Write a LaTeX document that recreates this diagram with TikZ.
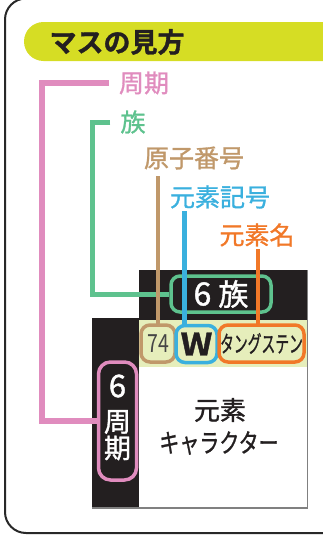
\documentclass[tikz,border=0pt]{standalone}
\usepackage{fontspec}
\setmainfont{Noto Sans CJK JP}[BoldFont={Noto Sans CJK JP Bold}]
\newfontfamily\jpmed{Noto Sans CJK JP}[FakeBold=1.2]
\newfontfamily\jpblack{Noto Sans CJK JP Bold}[FakeBold=1.2]
\definecolor{titlec}{RGB}{214,221,36}
\definecolor{pinkc}{RGB}{224,140,190}
\definecolor{greenc}{RGB}{94,194,142}
\definecolor{brownc}{RGB}{192,152,106}
\definecolor{bluec}{RGB}{58,176,222}
\definecolor{orangec}{RGB}{241,120,40}
\definecolor{blk}{RGB}{35,31,32}
\definecolor{stripc}{RGB}{230,238,187}
\definecolor{framec}{RGB}{40,40,40}
\definecolor{numc}{RGB}{70,70,70}
\begin{document}
\begin{tikzpicture}[x=1pt,y=-1pt,
  lab/.style={inner sep=0pt,font=\jpmed\fontsize{25pt}{27pt}\selectfont},
  ebox/.style={draw,line width=3.5pt,rounded corners=9pt,inner sep=0pt,fill=stripc},
  ptxt/.style={inner sep=0pt,text=white,font=\jpmed\fontsize{27pt}{29pt}\selectfont},
  conn/.style={line width=#1},
  ]
\useasboundingbox (0,0) rectangle (323,538);
\begin{scope}
\clip (0,0) rectangle (323,538);
% outer frame
\draw[framec,line width=2pt,rounded corners=21pt] (5,-1.5) rectangle (345,533);
% title bar
\fill[titlec,rounded corners=19.5pt] (24,22) rectangle (345,61);
\node[inner sep=0pt,text=blk,font=\jpblack\fontsize{27pt}{29pt}\selectfont] (title) at (117,42) {マスの見方};
% black background
\fill[blk] (139,270) rectangle (308,320);
\fill[blk] (92,318) rectangle (139,508);
% element card
\fill[stripc] (139,320) rectangle (307,367);
\fill[white] (139,367) rectangle (307,508);
\draw[gray,line width=1.2pt] (92,508) -- (307.5,508) -- (307.5,270);
% labels
\node[lab,text=pinkc] (pl) at (144,83) {周期};
\node[lab,text=greenc] (gl) at (133,122) {族};
\node[lab,text=brownc] (bl) at (194,158) {原子番号};
\node[lab,text=bluec] (bul) at (220,197) {元素記号};
\node[lab,text=orangec] (ol) at (257,235) {元素名};
% boxes
\node[ebox,draw=greenc,fill=blk,text=white,minimum width=100pt,minimum height=36pt,
  font=\jpmed\fontsize{30pt}{32pt}\selectfont] (gb) at (221,294) {{\fontsize{32pt}{32pt}\selectfont 6}\hspace{7pt}族};
\node[ebox,draw=brownc,minimum width=34pt,minimum height=37pt,text=numc,
  font=\fontsize{25pt}{27pt}\selectfont] (nb) at (158,343.5) {\scalebox{0.78}[1]{74}};
\node[ebox,draw=bluec,minimum width=41pt,minimum height=37pt,text=blk,
  font=\jpblack\fontsize{31pt}{33pt}\selectfont] (wb) at (196.5,344) {\scalebox{1.12}[1]{W}};
\node[ebox,draw=orangec,minimum width=85pt,minimum height=37pt,text=blk,
  font=\jpmed\fontsize{23pt}{25pt}\selectfont] (nmb) at (261.5,343.5) {\scalebox{0.6}[1]{タングステン}};
\node[ebox,draw=pinkc,fill=blk,minimum width=38pt,minimum height=118pt,rounded corners=12pt] (pb) at (117.5,421) {};
\node[ptxt,font=\jpmed\fontsize{31pt}{31pt}\selectfont] (p6) at (117.5,386) {6};
\node[ptxt] (p1) at (117.5,422) {周};
\node[ptxt] (p2) at (117.5,448) {期};
% card text
\node[inner sep=0pt,text=blk,font=\jpmed\fontsize{26pt}{28pt}\selectfont] (ct1) at (220,410) {元素};
\node[inner sep=0pt,text=blk,font=\jpmed\fontsize{26pt}{28pt}\selectfont] (ct2) at (219,443) {\scalebox{0.77}[1]{キャラクター}};
% connectors
\coordinate (pk) at (42,0);
\coordinate (ps) at ([xshift=-10pt]pl.west);
\draw[pinkc,conn=6pt] (ps) -- (ps -| pk) -- (pk |- pb.west) -- (pb.west);
\coordinate (gk) at (92,0);
\coordinate (gs) at ([xshift=-10pt]gl.west);
\draw[greenc,conn=5pt] (gs) -- (gs -| gk) -- (gk |- gb.west) -- (gb.west);
\coordinate (bt) at ([yshift=-6pt]bl.south);
\coordinate (nt) at ([yshift=-1.5pt]nb.north);
\draw[brownc,conn=4pt] (nt) -- (nt |- bt);
\coordinate (but) at ([yshift=-2pt]bul.south);
\coordinate (wt) at ([xshift=-12pt,yshift=-1.5pt]wb.north);
\draw[bluec,conn=4.5pt] (wt) -- (wt |- but);
\coordinate (ot) at ([yshift=-2pt]ol.south);
\coordinate (nmt) at ([xshift=-3.5pt,yshift=-1.5pt]nmb.north);
\draw[orangec,conn=4.5pt] (nmt) -- (nmt |- ot);
\end{scope}
\end{tikzpicture}
\end{document}
